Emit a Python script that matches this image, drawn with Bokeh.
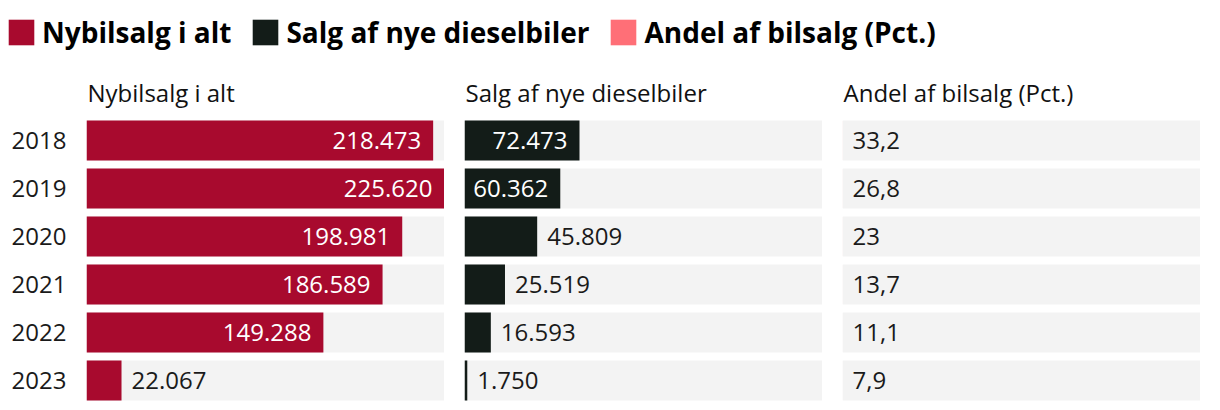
from bokeh.plotting import figure
from bokeh.models import Range1d, ColumnDataSource, LinearAxis, FixedTicker, Legend, LegendItem
from bokeh.layouts import column, row
from bokeh.embed import file_html
from bokeh.resources import INLINE
from bokeh.core.properties import value

# ---------------- data ----------------
years = ["2018", "2019", "2020", "2021", "2022", "2023"]
nybilsalg = [218473, 225620, 198981, 186589, 149288, 22067]
diesel = [72473, 60362, 45809, 25519, 16593, 1750]
andel = [33.2, 26.8, 23.0, 13.7, 11.1, 7.9]
series_names = ["Nybilsalg i alt", "Salg af nye dieselbiler", "Andel af bilsalg (Pct.)"]
colors = ["#A80A2E", "#131C18", "#FF6F77"]

# ---------------- style ----------------
FONT = "Open Sans"
VAL_SIZE = 24
BG = "#F3F3F3"
TXT = "#1A1A1A"
PLOT_W = 358
ROWS = list(range(len(years)))
XMAX = max(nybilsalg)
BAR_H = 40 / 48


def fmt_int(v):
    return f"{v:,}".replace(",", ".")


def fmt_dec(v):
    s = f"{v:.1f}".replace(".", ",")
    return s[:-2] if s.endswith(",0") else s


def est_width(s, size=VAL_SIZE):
    w = 0.0
    for ch in s:
        w += 0.27 if ch in ".," else 0.572
    return w * size


def make_panel(title, vals, labels, color, width, border_left, year_axis=False):
    p = figure(width=width, height=342,
               x_range=Range1d(0, XMAX), y_range=Range1d(5.4583, -1.6667),
               x_axis_type=None, y_axis_type=None,
               toolbar_location=None, output_backend="svg",
               min_border_left=border_left, min_border_right=0,
               min_border_top=0, min_border_bottom=0,
               outline_line_color=None, background_fill_color="white")
    bg = ColumnDataSource(dict(y=ROWS, right=[XMAX] * len(ROWS)))
    p.hbar(y="y", left=0, right="right", height=BAR_H, fill_color=BG, line_color=None, source=bg)
    src = ColumnDataSource(dict(y=ROWS, right=vals))
    p.hbar(y="y", left=0, right="right", height=BAR_H, fill_color=color, line_color=None, source=src)

    px_per_unit = PLOT_W / XMAX
    ins = dict(x=[], y=[], t=[])
    out = dict(x=[], y=[], t=[])
    for i, (v, lab) in enumerate(zip(vals, labels)):
        d = ins if v * px_per_unit > est_width(lab) + 20 else out
        d["x"].append(v)
        d["y"].append(i)
        d["t"].append(lab)
    p.text(x="x", y="y", text="t", source=ColumnDataSource(ins), x_offset=-12,
           text_align="right", text_baseline="middle", text_color="white",
           text_font=value(FONT), text_font_size=f"{VAL_SIZE}px")
    p.text(x="x", y="y", text="t", source=ColumnDataSource(out), x_offset=10,
           text_align="left", text_baseline="middle", text_color=TXT,
           text_font=value(FONT), text_font_size=f"{VAL_SIZE}px")
    # header
    p.text(x=[0], y=[-1.0], text=[title], x_offset=1,
           text_align="left", text_baseline="alphabetic", text_color="#111111",
           text_font=value(FONT), text_font_size="24px")
    if year_axis:
        ax = LinearAxis(ticker=FixedTicker(ticks=ROWS),
                        major_label_overrides={i: y for i, y in zip(ROWS, years)},
                        axis_line_color=None, major_tick_line_color=None,
                        minor_tick_line_color=None, major_tick_in=0, major_tick_out=0,
                        major_label_standoff=20,
                        major_label_text_font=FONT, major_label_text_font_size=f"{VAL_SIZE}px",
                        major_label_text_color=TXT)
        p.add_layout(ax, "left")
    return p


f1 = make_panel(series_names[0], nybilsalg, [fmt_int(v) for v in nybilsalg], colors[0], 444, 86, True)
f2 = make_panel(series_names[1], diesel, [fmt_int(v) for v in diesel], colors[1], 378, 20)
f3 = make_panel(series_names[2], andel, [fmt_dec(v) for v in andel], colors[2], 378, 20)

# ---------------- legend ----------------
lg = figure(width=1200, height=60, x_range=Range1d(0, 1), y_range=Range1d(0, 1),
            x_axis_type=None, y_axis_type=None, toolbar_location=None,
            output_backend="svg", min_border_left=5, min_border_right=0,
            min_border_top=13, min_border_bottom=0, outline_line_color=None)
items = []
for name, c in zip(series_names, colors):
    # off-screen swatch renderer, only used to draw the legend glyph
    r = lg.hbar(y=[-10], left=[0], right=[1], height=0.5, fill_color=c, line_color=None)
    items.append(LegendItem(label=name, renderers=[r]))
leg = Legend(items=items, orientation="horizontal", location="top_left",
             glyph_width=32, glyph_height=32, label_standoff=5, spacing=18,
             padding=2, margin=0, border_line_color=None, background_fill_alpha=0,
             label_text_font=FONT, label_text_font_size="28px",
             label_text_font_style="bold", label_text_color="#000000")
lg.add_layout(leg, "center")

layout = column(lg, row(f1, f2, f3))
open("out.html", "w").write(file_html(layout, INLINE))
